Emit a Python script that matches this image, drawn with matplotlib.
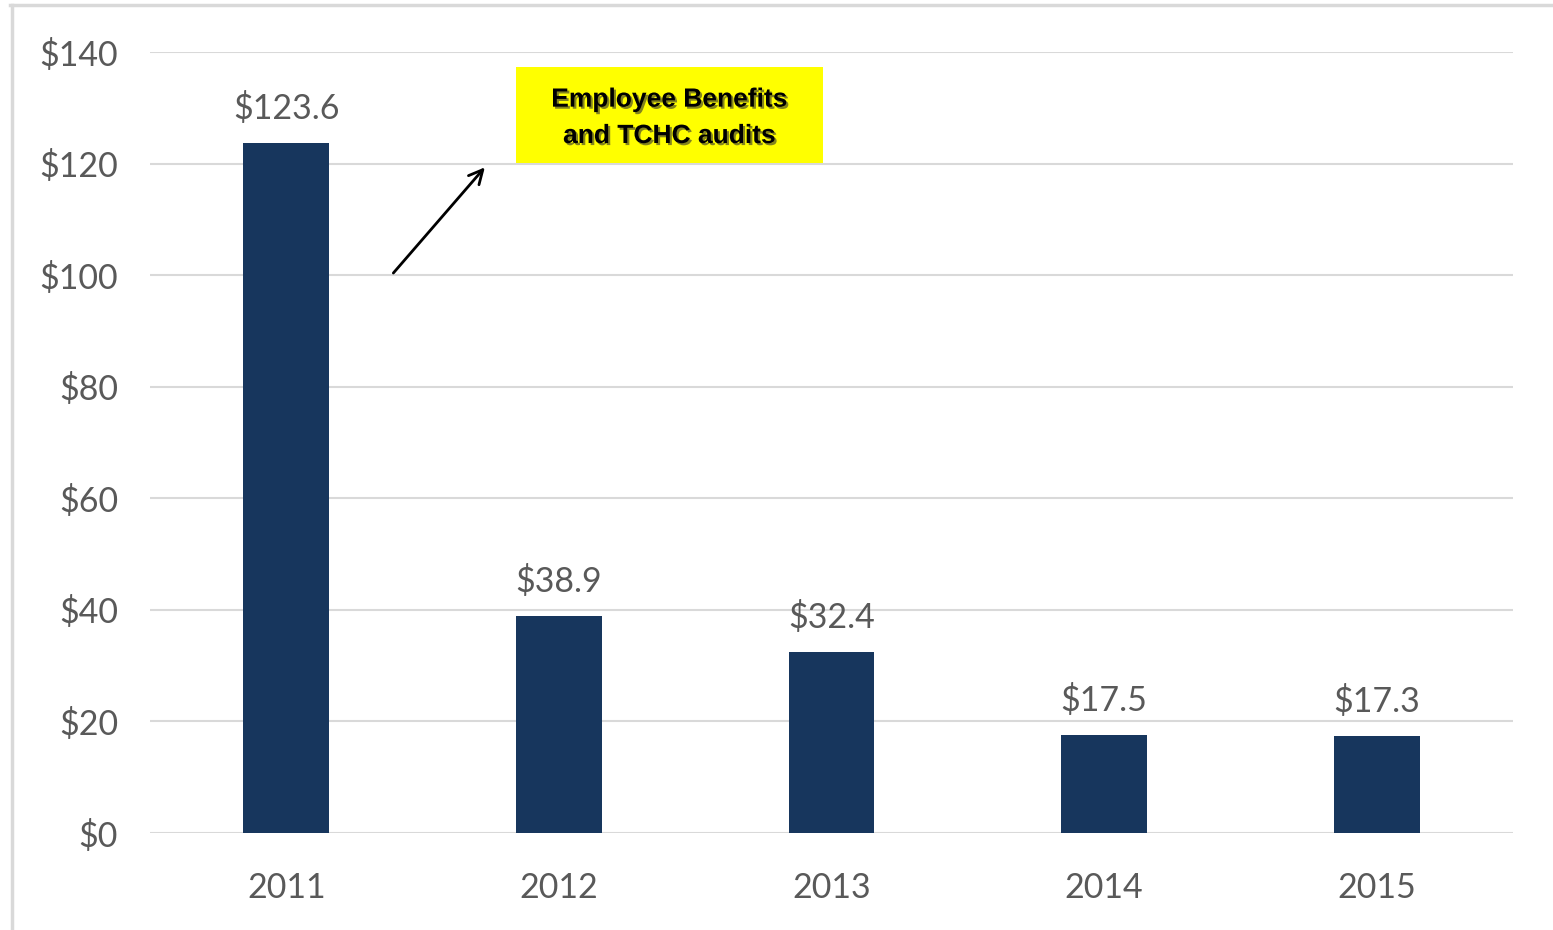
import matplotlib
matplotlib.use('Agg')
from matplotlib import pyplot as plt
from matplotlib.lines import Line2D
import matplotlib.patheffects as pe
import numpy as np

# data
years = ['2011', '2012', '2013', '2014', '2015']
values = [123.6, 38.9, 32.4, 17.5, 17.3]
y_ticks = [0, 20, 40, 60, 80, 100, 120, 140]
note = 'Employee Benefits\nand TCHC audits'

bar_color = '#17365d'
text_color = '#595959'
grid_color = '#d9d9d9'

plt.rcParams['font.family'] = ['Lato', 'DejaVu Sans']

fig = plt.figure(figsize=(15.53, 9.30), dpi=100)
ax = fig.add_axes([150/1553, 1-833/930, (1513-150)/1553, (833-52)/930])

x = np.arange(len(years))
ax.bar(x, values, width=0.315, color=bar_color, zorder=3)

# value labels
for xi, v in zip(x, values):
	ax.annotate('$%.1f' % v, (xi, v), xytext=(0, 13), textcoords='offset points',
		ha='center', va='bottom', fontsize=24.5, color=text_color)

ax.set_xlim(-0.5, 4.5)
ax.set_ylim(0, 140)
ax.set_yticks(y_ticks)
ax.set_yticklabels(['$%d' % t for t in y_ticks])
ax.set_xticks(x)
ax.set_xticklabels(years)
ax.tick_params(axis='y', length=0, pad=23, labelsize=24.5, labelcolor=text_color)
ax.tick_params(axis='x', length=0, pad=28, labelsize=24.5, labelcolor=text_color)
ax.grid(axis='y', color=grid_color, lw=1.5, zorder=0)
for s in ax.spines.values():
	s.set_visible(False)

# annotation box + arrow
ax.add_patch(plt.Rectangle((0.842, 120.1), 1.125, 17.2, facecolor='#ffff00',
	edgecolor='none', zorder=4, clip_on=False))
ax.text(1.405, 128.2, note, ha='center', va='center', fontsize=19, fontweight='bold',
	family='Liberation Sans', color='black', linespacing=1.65, zorder=5,
	path_effects=[pe.withSimplePatchShadow(offset=(1.5, -1.5), shadow_rgbFace='#333333', alpha=0.6)])
ax.annotate('', xy=(0.735, 119.7), xytext=(0.386, 100.0),
	arrowprops=dict(arrowstyle='->', color='black', lw=2, mutation_scale=25))

# light frame on top and left edge
fig.add_artist(Line2D([10/1553, 1], [1-5.5/930, 1-5.5/930], color=grid_color, lw=2.5))
fig.add_artist(Line2D([11.5/1553, 11.5/1553], [0, 1-5.5/930], color=grid_color, lw=2.5))

fig.savefig('out.png', dpi=100)
